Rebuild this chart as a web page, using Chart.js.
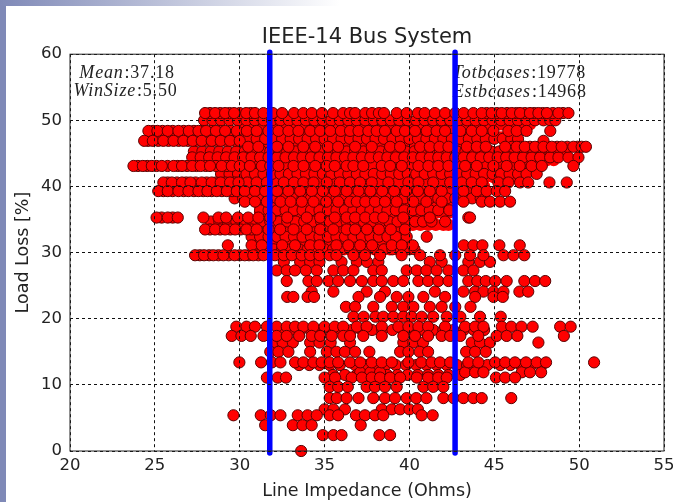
<!DOCTYPE html>
<html>
<head>
<meta charset="utf-8">
<title>IEEE-14 Bus System</title>
<script src="https://cdn.jsdelivr.net/npm/chart.js@4"></script>
<style>
html, body { margin: 0; padding: 0; background: #fff; }
body { width: 673px; height: 502px; overflow: hidden; position: relative; }
#leftBand { position: absolute; left: 0; top: 0; width: 6px; height: 502px; background: #7f89b7; }
#topBand { position: absolute; left: 0; top: 0; width: 340px; height: 6px; background: linear-gradient(to right, #7f89b7, #fff); }
#wrap { position: absolute; left: 0; top: 0; width: 673px; height: 502px; filter: blur(0.4px); }
</style>
</head>
<body>
<div id="leftBand"></div>
<div id="topBand"></div>
<div id="wrap"><canvas id="busChart" width="673" height="502"></canvas></div>
<script>
const CHART_TITLE = 'IEEE-14 Bus System';
const X_LABEL = 'Line Impedance (Ohms)';
const Y_LABEL = 'Load Loss [%]';
const LIMIT_LINES = [31.77, 42.69];

// the solid part of the cloud can't be read point by point, these cover it
const coreWide = [30.2, 30.65, 31.1, 31.55, 32, 32.45, 32.9, 33.35, 33.8, 34.25, 34.7, 35.15, 35.6, 36.05, 36.5, 36.95, 37.4, 37.85, 38.3, 38.75, 39.2, 39.65, 40.1, 40.55, 41, 41.45, 41.9, 42.35, 42.8, 43.25, 43.7, 44.15, 44.4];
const coreMid = [31.2, 31.65, 32.1, 32.55, 33, 33.45, 33.9, 34.35, 34.8, 35.25, 35.7, 36.15, 36.6, 37.05, 37.5, 37.95, 38.4, 38.85, 39.3, 39.75, 40.2, 40.65, 41.1, 41.55, 42, 42.3];
const coreLow = [31.2, 31.65, 32.1, 32.55, 33, 33.45, 33.9, 34.35, 34.8, 35.25, 35.7, 36.15, 36.6, 37.05, 37.5, 37.95, 38.4, 38.85, 39.3, 39.6];
const eastLong = [44.5, 44.95, 45.4, 45.85, 46.3, 46.75, 47.2, 47.65, 48.1, 48.5];
const eastMid = [44.5, 44.95, 45.4, 45.85, 46.3, 46.75, 47.1];
const eastShort = [44.5, 44.95, 45.4, 45.85, 46.2];
const bandHigh = [32.4, 33, 33.6, 34.2, 34.8, 35.4, 36, 36.6, 37.2, 37.8, 38.4, 39, 39.6, 40.2, 40.8, 41.4, 42, 42.6, 43.2, 43.8, 44.4];
const bandMid = [33.5, 34.1, 34.7, 35.3, 35.9, 36.8, 37.4, 38, 38.6, 39.2, 39.8, 40.4, 41, 41.6, 42.2, 42.8, 43.4, 44, 44.6, 45.35, 45.95, 46.55, 47.2, 47.8];
const bandSparse = [35.5, 36.2, 36.9, 37.5, 38.1, 38.7, 39.3, 39.9, 40.5, 41.1, 41.7, 42.3, 43];

// one list of impedances per load loss level
const at500 = [27.9, 28.4, 28.9, 29.4, 29.9, 30.4, 30.9, 31.4, 31.9, 32.4, 32.9, 33.4, 33.9, 34.4, 34.9, 35.4, 35.9, 36.4, 36.9, 37.4, 37.9, 38.4, 38.9, 39.4, 39.9, 40.4, 40.9, 41.4, 41.9, 42.4, 42.9, 43.4, 43.9, 44.4, 44.9, 45.4, 45.9, 46.4, 46.9, 47.4, 47.9, 48.3, 48.6];
const at472 = [30, 30.5, 31, 31.5, 32, 32.5, 33, 33.5, 34, 34.5, 35, 35.5, 36, 36.5, 37, 37.5, 38, 38.5, 39, 39.5, 40, 40.5, 41, 41.5, 42, 42.5, 43, 43.5, 44, 44.5, 45, 45.5, 46, 46.4];
const at453 = [27.3, 27.8, 28.3, 28.8, 29.3, 29.8, 30.3, 30.8, 31.3, 31.8, 32.3, 32.8, 33.3, 33.8, 34.3, 34.8, 35.3, 35.8, 36.3, 36.8, 37.3, 37.8, 38.3, 38.8, 39.3, 39.8, 40.3, 40.8, 41.3, 41.8, 42.3, 42.8, 43.3, 43.8, 44.3, 44.8, 45.3, 45.8, 46.3, 46.8, 47.3, 47.8, 48.3, 48.8, 49.2];
const at444 = [27.2, 27.7, 28.2, 28.7, 29.2, 29.7, 30.2, 30.7, 31.2, 31.7, 32.2, 32.7, 33.2, 33.7, 34.2, 34.7, 35.2, 35.7, 36.2, 36.7, 37.2, 37.7, 38.2, 38.7, 39.2, 39.7, 40.2, 40.7, 41.2, 41.7, 42.2, 42.7, 43.2, 43.7, 44.2, 44.7, 45.2, 45.7, 46.2, 46.7, 47.2, 47.7, 48.29, 48.78, 49.37, 49.96];
const at419 = [28.9, 29.4, 29.9, 30.4, 30.9, 31.4, 31.9, 32.4, 32.9, 33.4, 33.9, 34.4, 34.9, 35.4, 35.9, 36.4, 36.9, 37.4, 37.9, 38.4, 38.9, 39.4, 39.9, 40.4, 40.9, 41.4, 41.9, 42.4, 42.9, 43.4, 43.9, 44.4, 44.9, 45.4, 45.9, 46.4, 46.9, 47.5];
const at382 = [29.7, 30.2, 30.7, 31.2, 31.7, 32.2, 32.7, 33.2, 33.7, 34.2, 34.7, 35.2, 35.7, 36.2, 36.7, 37.2, 37.7, 38.2, 38.7, 39.2, 39.7, 40.2, 40.7, 41.2, 41.7, 42.2, 42.7, 43.2, 43.7, 44.2];
const at364 = [31.2, 31.7, 32.2, 32.7, 33.2, 33.7, 34.2, 34.7, 35.2, 35.7, 36.2, 36.7, 37.2, 37.7, 38.2, 38.7, 39.2, 39.7, 40.2, 40.7, 41.2, 41.7, 42.35];
const at347 = [28.3, 28.8, 29.3, 29.8, 30.3, 30.8, 31.3, 31.8, 32.3, 32.8, 33.3, 33.8, 34.3, 34.8, 35.3, 35.8, 36.3, 36.8, 37.3, 37.8, 38.3, 38.8, 39.3, 39.8, 40.33, 40.8, 41.3, 42.1];
const at324 = [30.7, 31.2, 31.7, 32.2, 32.7, 33.2, 33.7, 34.2, 34.7, 35.2, 35.7, 36.2, 36.7, 37.2, 37.7, 38.2, 38.7, 39.2, 39.84, 41.02];
const at305 = [31, 31.5, 32, 32.5, 33, 33.5, 34, 34.5, 35, 35.5, 36, 36.5, 37, 37.5, 38, 38.5, 39, 39.5, 40, 40.3];
const at286 = [32.6, 33.56, 34.15, 34.7, 36, 36.9, 37.5, 38.17, 41.2, 41.9, 43.47, 44.16, 44.75];
const at119 = [37.1, 37.7, 38.27, 43.28, 43.87, 44.36, 46.62, 47.1, 47.76];
const at63 = [35, 35.52, 36.2, 38.37, 38.96, 39.45, 40, 40.5];
const at164 = [32, 32.53, 33.13, 34.15, 34.7, 35.36, 36.5, 39.64, 40.23, 40.8, 43.67, 44.16, 44.75, 47.6];

// second pass on the strips that run out past the solid part
const more511 = [28.25, 28.85, 29.4, 30, 30.65, 44.55, 45.15, 45.75, 46.3, 46.8, 47.35, 47.85, 48.45, 49.05];
const more484 = [24.9, 25.45, 26.05, 26.7, 27.3, 27.8, 28.3, 28.85, 29.5];
const more469 = [24.6, 25.2, 25.8, 26.4, 26.95, 27.5, 28.05, 28.6, 29.15, 29.7];
const more460 = [46.05, 46.55, 47.1, 47.65, 48.15, 48.7, 49.3, 49.9];
const more431 = [24, 24.55, 25.1, 25.75, 26.35, 26.9, 27.45, 28, 28.6, 29.25];
const more406 = [25.75, 26.3, 26.85, 27.4, 28.05, 28.6, 29.15, 29.7, 30.45];
const more393 = [25.5, 26.05, 26.7, 27.3, 27.85, 28.35, 28.95, 29.55];
const more353 = [25.4, 26.05];
const more335 = [28.25, 28.85, 29.45, 30.05, 30.7];
const more296 = [27.65, 28.2, 28.75, 29.35, 30, 30.55, 31.1];

const at511 = [27.96, 28.55, 29.14, 29.67, 30.38, 30.9, 31.4, 31.95, 32.5, 33.2, 33.75, 34.25, 34.85, 35.5, 36.1, 36.5, 36.8, 37.4, 37.8, 38.2, 38.5, 39.25, 39.84, 40.5, 40.9, 41.5, 42.1, 42.7, 43.2, 43.77, 44.26, 44.85, 45.44, 46.03, 46.52, 47.1, 47.6, 48.1, 48.78, 49.37];
const at484 = [24.62, 25.15, 25.76, 26.39, 27, 27.57, 28.02, 28.6, 29.14, 29.83, 30.42, 31, 31.69, 32.28, 32.87, 33.46, 34.15, 34.74, 35.33, 35.96, 36.5, 37, 37.58, 38.07, 38.56, 39.25, 39.74, 40.33, 41.02, 41.6, 42.1, 43, 43.67, 44.26, 44.95, 45.83, 46.32, 46.9, 48.3];
const at469 = [24.37, 24.88, 25.5, 26.1, 26.68, 27.23, 27.76, 28.35, 28.88, 29.43, 30, 47.9];
const at460 = [30.5, 31.1, 32.2, 32.87, 33.75, 34.45, 35.2, 35.8, 36.8, 37.78, 38.86, 39.45, 40.63, 41.2, 41.77, 42.3, 43.38, 43.97, 44.5, 45.64, 46.32, 46.8, 47.4, 47.9, 48.39, 48.97, 49.66, 50.15, 50.4];
const at431 = [23.74, 24.29, 24.82, 25.41, 26.1, 26.6, 27.2, 27.7, 28.25, 28.94, 29.53, 30, 30.6, 31.3, 31.8, 32.28, 33.17, 33.76, 34.45, 35.13, 35.6, 36.3, 36.7, 37.28, 38.37, 38.86, 39.55, 40.53, 41.12, 41.7, 42.3, 43.28, 43.97, 44.95, 45.73, 46.5, 47.2, 47.8, 49.66];
const at406 = [25.5, 26, 26.6, 27.1, 27.76, 28.35, 28.88, 29.43, 29.93, 31, 31.6, 32.6, 33.2, 33.75, 34.35, 35.13, 35.9, 36.5, 37.09, 37.78, 38.76, 39.94, 40.53, 41.4, 42.4, 43.08, 43.67, 44.26, 45.24, 45.83, 46.52, 47, 48.25, 49.27];
const at393 = [25.2, 25.76, 26.39, 26.98, 27.57, 28.1, 28.65, 29.24, 29.83, 30.3, 30.9, 31.5, 32.2, 32.87, 33.56, 34.25, 34.9, 35.6, 36.3, 37, 37.7, 38.4, 39.1, 39.8, 40.5, 41.2, 41.9, 43.18, 43.97, 44.55, 45.14, 45.64];
const at377 = [30.3, 30.9, 31.6, 32.4, 33, 33.66, 34.35, 35.1, 35.8, 36.5, 36.9, 37.4, 37.97, 38.56, 39.25, 40.23, 41, 41.9, 43.18, 44.26, 44.75, 45.34, 45.93];
const at353 = [25.1, 25.76, 26.35, 27.86, 28.75, 29.2, 29.9, 30.5, 31.1, 31.8, 32.8, 33.95, 34.74, 35.6, 36.3, 36.8, 37.4, 37.97, 38.46, 39.64, 41.2, 43.47, 43.57];
const at335 = [27.96, 28.55, 29.14, 29.73, 30.4, 31, 31.7, 32.38, 33.17, 33.95, 34.74, 35.52, 36.3, 36.8, 37.5, 38.2, 38.9, 39.74];
const at311 = [29.3, 30.7, 31.3, 32.5, 33.26, 34.15, 34.7, 35.7, 36.4, 37.1, 37.8, 38.96, 39.55, 40.2, 43.2, 43.77, 44.3, 45.3, 46.5];
const at296 = [27.37, 27.9, 28.45, 29.04, 29.7, 30.3, 30.8, 31.4, 32.08, 32.6, 33.07, 33.65, 34.15, 34.7, 35.3, 35.7, 36.7, 37.38, 38.27, 39.54, 40.63, 41.8, 42.7, 43.57, 44.36, 45.54, 46.13, 46.77];
const at273 = [32.18, 32.77, 33.26, 33.9, 34.54, 35.52, 36.1, 36.7, 37.87, 38.37, 39.84, 40.43, 41, 41.6, 42.3, 43.18, 43.77];
const at257 = [32.77, 34.05, 34.54, 35.23, 35.8, 36.5, 37.2, 37.87, 38.37, 39.05, 39.64, 40.53, 41.1, 41.7, 42.3, 43.47, 44, 44.5, 45.05, 45.73, 46.77, 47.4, 48];
const at241 = [34.24, 35.52, 37.48, 38.56, 41.5, 43.18, 43.87, 44.36, 44.95, 45.54, 46.48, 47];
const at233 = [32.8, 33.16, 34, 34.38, 37, 38.27, 39.25, 39.94, 40.82, 42.1, 43.87, 44.95, 45.5];
const at218 = [36.26, 36.8, 37.87, 38.96, 39.64, 40.23, 41.2, 41.9, 42.7, 43.6];
const at203 = [36.7, 37.3, 38, 38.46, 39.05, 39.64, 40.13, 40.72, 41.4, 42.2, 43, 44.16, 45.38];
const at188 = [29.8, 30.4, 30.9, 31.6, 32.18, 32.77, 33.26, 33.75, 34.34, 35, 35.6, 36.1, 36.9, 37.48, 38.37, 39.35, 39.94, 40.53, 41.1, 42.1, 43.28, 43.87, 44.36, 45.44, 46, 46.6, 47.26, 48.88, 49.5];
const at174 = [29.53, 30.1, 30.65, 31.4, 32.18, 32.77, 33.5, 34.24, 34.74, 35.42, 36.1, 36.5, 37.28, 38.37, 39.64, 40.33, 41.1, 41.9, 42.4, 43, 44.06, 45.14, 45.73, 46.36, 49.1];
const at150 = [31.8, 32.28, 32.87, 34.15, 35.13, 35.7, 36.2, 36.8, 37.64, 39.45, 39.94, 40.6, 41.1, 43.34, 43.87, 44.5];
const at134 = [29.98, 31.26, 31.9, 32.4, 33.26, 33.75, 34.34, 34.83, 35.3, 35.8, 36.5, 37.1, 37.78, 38.37, 38.96, 39.94, 40.7, 41.3, 41.8, 42.4, 43.47, 44.06, 45.05, 45.64, 46.22, 46.87, 47.5, 48.05, 50.88];
const at111 = [31.6, 32.24, 32.73, 35, 35.62, 36.6, 37.2, 37.78, 38.27, 38.86, 39.45, 40.43, 41.1, 41.7, 42.2, 45.1, 45.64, 46.22];
const at97 = [35.3, 35.8, 36.37, 37.48, 37.97, 38.56, 39.25, 40.82, 41.4, 42];
const at80 = [35.3, 35.72, 36.3, 37, 37.87, 38.56, 39.15, 39.84, 40.4, 41, 42, 42.6, 43.18, 43.77, 44.26, 46];
const at54 = [29.63, 31.24, 31.83, 32.4, 33.42, 34, 34.54, 35.3, 35.8, 36.85, 37.38, 37.97, 38.46, 40.72, 41.37];
const at39 = [31.5, 33.13, 33.7, 34.24, 37.13];
const at24 = [34.9, 35.52, 36, 38.23, 38.86];
const at0 = [33.62];

const coreRows = [
  [49.3, coreWide], [47.8, coreWide], [46.6, coreWide], [45, coreWide], [43.6, coreWide], [42.7, coreWide],
  [41.3, coreWide], [40, coreWide], [38.8, coreWide], [37, coreMid], [36, coreMid], [34.2, coreMid],
  [32.9, coreLow], [31.7, coreLow], [30.5, coreLow],
  [49.4, eastMid], [47.4, eastShort], [45.2, eastLong], [44, eastLong], [42.6, eastMid], [41.4, eastShort]
];

// hidden rows come first, so the rows on top stay whole
const lossRows = [
  [18.3, bandHigh], [13, bandMid], [11.5, bandSparse],
  [50.0, at500], [47.2, at472], [45.3, at453], [44.4, at444], [41.9, at419],
  [38.2, at382], [36.4, at364], [34.7, at347], [32.4, at324], [30.5, at305],
  [28.6, at286], [11.9, at119], [6.3, at63], [16.4, at164],
  [51.1, more511], [48.4, more484], [46.9, more469], [46.0, more460], [43.1, more431],
  [40.6, more406], [39.3, more393], [35.3, more353], [33.5, more335], [29.6, more296],
  [51.1, at511], [48.4, at484], [46.9, at469], [46.0, at460], [43.1, at431],
  [40.6, at406], [39.3, at393], [37.7, at377], [35.3, at353], [33.5, at335],
  [31.1, at311], [29.6, at296], [27.3, at273], [25.7, at257], [24.1, at241],
  [23.3, at233], [21.8, at218], [20.3, at203], [18.8, at188], [17.4, at174],
  [15.0, at150], [13.4, at134], [11.1, at111], [9.7, at97], [8.0, at80],
  [5.4, at54], [3.9, at39], [2.4, at24], [0, at0]
];

const toPoints = rows => rows.flatMap(([loss, impedances]) =>
  impedances.map(impedance => ({x: impedance, y: loss})));

// [x, y, italic part, roman part], x and y in data units
const NOTES = [
  [20.55, 57.1, 'Mean', ':37.18'],
  [20.2, 54.4, 'WinSize', ':5.50'],
  [42.55, 57.1, 'Totbcases', ':19778'],
  [42.55, 54.2, 'Estbcases', ':14968']
];

const notesPlugin = {
  id: 'notes',
  beforeDatasetsDraw(chart) {
    const ctx = chart.ctx;
    const {x, y} = chart.scales;
    ctx.save();
    ctx.fillStyle = '#222';
    ctx.textBaseline = 'middle';
    ctx.letterSpacing = '0.8px';
    NOTES.forEach(([nx, ny, mathPart, numPart]) => {
      let px = x.getPixelForValue(nx);
      const py = y.getPixelForValue(ny);
      ctx.font = 'italic 18px "Liberation Serif"';
      ctx.fillText(mathPart, px, py);
      px += ctx.measureText(mathPart).width + 1;
      ctx.font = '18px "Liberation Serif"';
      ctx.fillText(numPart, px, py);
    });
    ctx.restore();
  }
};

const framePlugin = {
  id: 'frame',
  afterDraw(chart) {
    const {left, top, width, height} = chart.chartArea;
    const ctx = chart.ctx;
    ctx.save();
    ctx.strokeStyle = '#222';
    ctx.lineWidth = 1;
    ctx.strokeRect(left, top, width, height);
    ctx.restore();
  }
};

const limitDatasets = LIMIT_LINES.map(impedance => ({
  type: 'line',
  data: [{x: impedance, y: 60.3}, {x: impedance, y: -0.3}],
  borderColor: '#0000ff',
  borderWidth: 5.5,
  borderCapStyle: 'round',
  pointRadius: 0,
  fill: false,
  clip: false,
  order: 0
}));

new Chart(document.getElementById('busChart').getContext('2d'), {
  type: 'scatter',
  data: {
    datasets: [
      {
        data: toPoints(coreRows),
        backgroundColor: '#ff0000',
        borderWidth: 0,
        pointRadius: 6.2,
        clip: false,
        order: 2
      },
      {
        data: toPoints(lossRows),
        backgroundColor: '#ff0000',
        borderColor: '#5a0000',
        borderWidth: 1,
        pointRadius: 5.6,
        clip: false,
        order: 1
      },
      ...limitDatasets
    ]
  },
  options: {
    animation: false,
    responsive: false,
    layout: {padding: {top: 0, right: 9, bottom: 0, left: 0}},
    plugins: {
      legend: {display: false},
      tooltip: {enabled: false},
      title: {
        display: true,
        text: CHART_TITLE,
        color: '#222',
        fullSize: false,
        font: {family: 'DejaVu Sans', size: 21, weight: 'normal'},
        padding: {top: 25, bottom: 4}
      }
    },
    scales: {
      x: {
        type: 'linear',
        min: 20,
        max: 55,
        afterFit: scale => {
          scale.height = 51;
          scale.paddingLeft = 0;
          scale.paddingRight = 0;
        },
        ticks: {
          stepSize: 5,
          color: '#222',
          padding: 5,
          maxRotation: 0,
          autoSkip: false,
          font: {family: 'DejaVu Sans', size: 16.5}
        },
        grid: {color: '#111', z: 1, drawTicks: false},
        border: {dash: [3, 3], display: false},
        title: {
          display: true,
          text: X_LABEL,
          color: '#222',
          padding: {top: 5, bottom: 0},
          font: {family: 'DejaVu Sans', size: 17.5}
        }
      },
      y: {
        min: 0,
        max: 60,
        afterFit: scale => { scale.width = 70; },
        ticks: {
          stepSize: 10,
          color: '#222',
          padding: 8,
          font: {family: 'DejaVu Sans', size: 16.5}
        },
        grid: {color: '#111', z: 1, drawTicks: false},
        border: {dash: [3, 3], display: false},
        title: {
          display: true,
          text: Y_LABEL,
          color: '#222',
          padding: {top: 13, bottom: 0},
          font: {family: 'DejaVu Sans', size: 17.5}
        }
      }
    }
  },
  plugins: [notesPlugin, framePlugin]
});
</script>
</body>
</html>
